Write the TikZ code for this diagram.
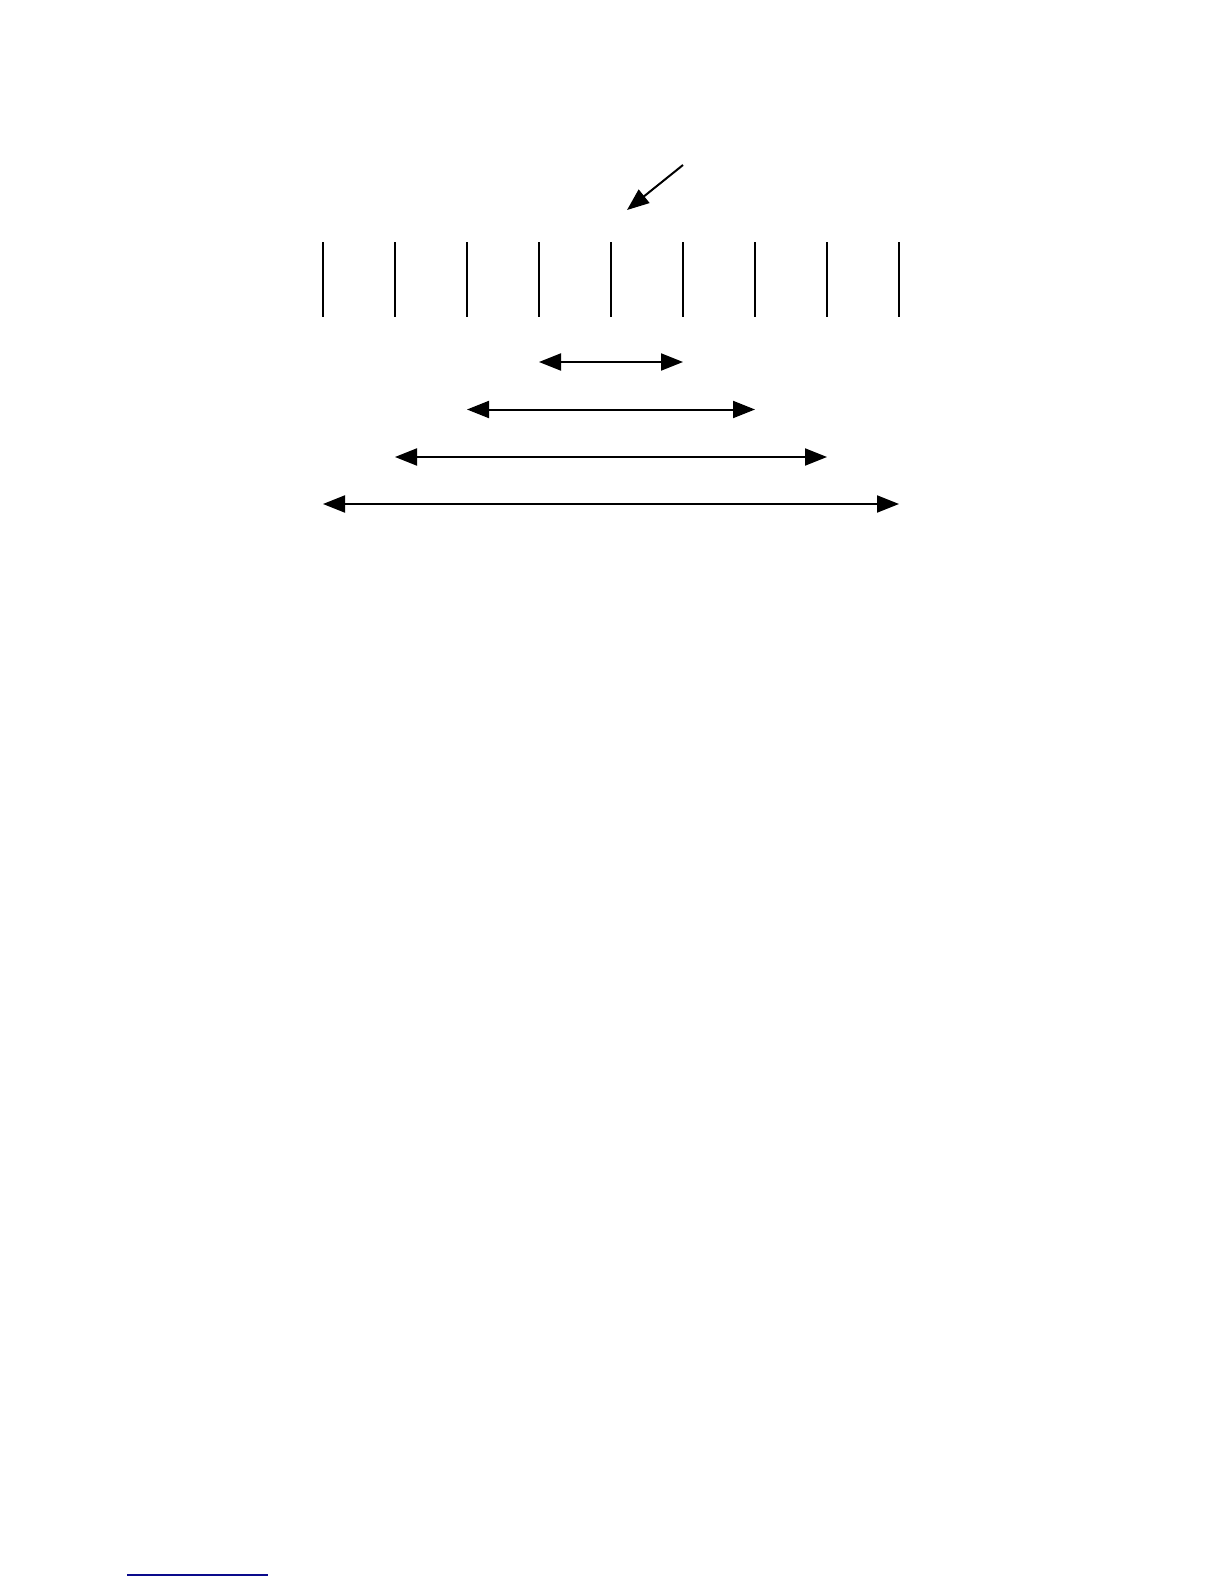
\documentclass[tikz,border=0pt]{standalone}
\usetikzlibrary{arrows.meta}
\definecolor{rulenavy}{RGB}{10,10,140}
\begin{document}
\begin{tikzpicture}[x=0.5pt, y=-0.5pt, line join=round, >={Triangle[length=11pt,width=8.5pt]}]
\def\xo{323} \def\dx{72}
\def\ytop{242} \def\ybot{317}
\useasboundingbox (0,0) rectangle (1224,1584);
\foreach \i in {0,...,8}{
  \coordinate (t\i) at (\xo+\i*\dx,\ytop);
  \coordinate (b\i) at (\xo+\i*\dx,\ybot);
  \draw[line width=1.2pt] (t\i)--(b\i);
}
\foreach \j/\y in {1/362,2/409.5,3/457,4/504}{
  \pgfmathtruncatemacro{\a}{4-\j}
  \pgfmathtruncatemacro{\b}{4+\j}
  \coordinate (l\j) at (\xo+\a*\dx,\y);
  \coordinate (r\j) at (\xo+\b*\dx,\y);
  \draw[<->, line width=1pt] (l\j)--(r\j);
}
\coordinate (src) at (683,165);
\coordinate (hit) at (627,210);
\draw[->, line width=1pt] (src)--(hit);
\coordinate (fl) at (127,1575);
\coordinate (fr) at (268,1575);
\draw[rulenavy, line width=0.7pt] (fl)--(fr);
\end{tikzpicture}
\end{document}
